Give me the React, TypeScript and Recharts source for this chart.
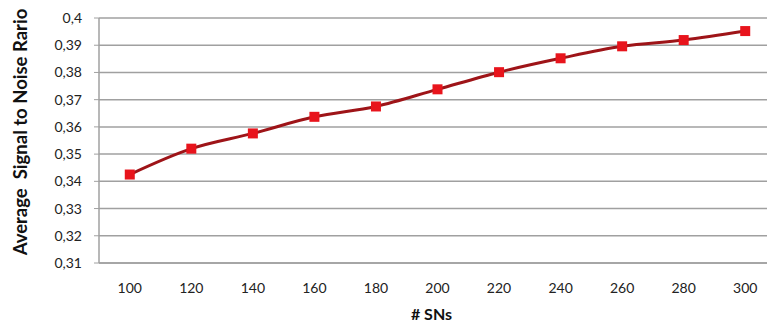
import React from 'react';
import {
  LineChart,
  Line,
  XAxis,
  YAxis,
  CartesianGrid,
} from 'recharts';

// Nombre de capteurs et rapport signal/bruit moyen
const nbCapteurs = [100, 120, 140, 160, 180, 200, 220, 240, 260, 280, 300];
const snrMoyen = [0.3425, 0.352, 0.3576, 0.3637, 0.3675, 0.3738, 0.3801, 0.3852, 0.3896, 0.3919, 0.3952];
const graduationsY = [0.31, 0.32, 0.33, 0.34, 0.35, 0.36, 0.37, 0.38, 0.39, 0.4];

const donnees = nbCapteurs.map((n, i) => ({ sn: n, snr: snrMoyen[i] }));

const police = 'Lato, "Open Sans", sans-serif';

const formatVirgule = (v: number) => String(Math.round(v * 100) / 100).replace('.', ',');

const Carre = (props: any) => {
  const { cx, cy } = props;
  if (cx == null || cy == null) return null;
  return <rect x={cx - 5} y={cy - 5} width={10} height={10} fill="#e8141c" />;
};

// Titre vertical de l'axe Y
const TitreY = () => (
  <text
    x={20}
    y={132}
    transform="rotate(-90 20 132)"
    textAnchor="middle"
    dominantBaseline="central"
    fill="#111"
    fontSize={18.5}
    fontWeight="bold"
    fontFamily={police}
    style={{ whiteSpace: 'pre' }}
  >
    Average  Signal to Noise Rario
  </text>
);

const App = () => {
  return (
    <div style={{ position: 'absolute', left: 0, top: 0, width: 767, height: 327, overflow: 'hidden', background: '#fff' }}>
      <LineChart
        width={776}
        height={327}
        data={donnees}
        margin={{ top: 18, right: 0, bottom: 0, left: 0 }}
      >
        <CartesianGrid vertical={false} stroke="#a0a0a0" strokeWidth={1.5} />
        <XAxis
          dataKey="sn"
          type="number"
          domain={[90, 310]}
          ticks={nbCapteurs}
          tickLine={false}
          axisLine={{ stroke: '#a0a0a0', strokeWidth: 1.5 }}
          tick={{ fill: '#222', fontSize: 14, fontFamily: police }}
          tickMargin={14}
          height={64}
          label={{
            value: '# SNs',
            position: 'insideBottom',
            offset: 7,
            dx: -6,
            fill: '#111',
            fontSize: 16,
            fontWeight: 'bold',
            fontFamily: police,
          }}
        />
        <YAxis
          domain={[0.31, 0.4]}
          ticks={graduationsY}
          tickFormatter={formatVirgule}
          width={99}
          tickSize={5}
          tickLine={{ stroke: '#a0a0a0' }}
          axisLine={{ stroke: '#a0a0a0', strokeWidth: 1.5 }}
          tick={{ fill: '#222', fontSize: 14, fontFamily: police }}
          tickMargin={12}
          label={<TitreY />}
        />
        <Line
          type="monotone"
          dataKey="snr"
          stroke="#9e1418"
          strokeWidth={3}
          dot={<Carre />}
          activeDot={false}
          isAnimationActive={false}
        />
      </LineChart>
    </div>
  );
};

export default App;
